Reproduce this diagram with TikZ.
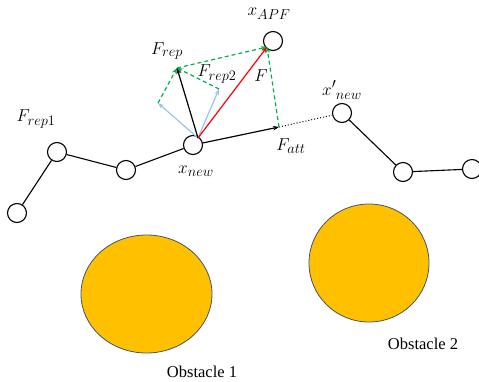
\documentclass[tikz,border=0pt]{standalone}
\usepackage{fontspec}
\setmainfont{Liberation Serif}
\usetikzlibrary{arrows.meta,shapes.geometric}
\definecolor{obst}{HTML}{FFC000}
\definecolor{obstedge}{HTML}{44546A}
\definecolor{lblue}{HTML}{9DC3E6}
\definecolor{fgreen}{HTML}{00B050}
\begin{document}
\begin{tikzpicture}[x=1pt,y=-1pt,
  vtx/.style={draw=black,line width=1.1pt,circle,minimum size=19pt,inner sep=0pt,fill=white},
  edge/.style={draw=black,line width=1.1pt},
  tip/.style={-{Stealth[length=6pt,width=4.5pt]}},
  vec/.style={line width=1.2pt,tip},
  gdash/.style={draw=fgreen,line width=1.2pt,dash pattern=on 4pt off 3pt,tip},
  mlbl/.style={inner sep=0pt,font=\fontsize{19}{22}\selectfont},
  olbl/.style={inner sep=0pt,font=\fontsize{16.5}{19}\selectfont},
  obstacle/.style={draw=obstedge,line width=0.8pt,fill=obst,ellipse,inner sep=0pt}]
\useasboundingbox (0,0) rectangle (479,381);
% obstacles
\node[obstacle,minimum width=131pt,minimum height=118pt] (ob1) at (146.5,294) {};
\node[obstacle,minimum width=120pt,minimum height=118pt] (ob2) at (369,263) {};
\node[olbl] (ol1) at (202,372) {Obstacle 1};
\node[olbl] (ol2) at (423,344) {Obstacle 2};
% vertices
\node[vtx] (n1) at (17,213) {};
\node[vtx] (n2) at (57,152) {};
\node[vtx] (n3) at (126,170) {};
\node[vtx] (xnew) at (193,145) {};
\node[vtx] (xapf) at (273,41) {};
\node[vtx] (xnewp) at (342,113) {};
\node[vtx] (n6) at (403,172) {};
\node[vtx] (n7) at (472,169) {};
% key points
\coordinate (o) at (198,138);
\coordinate (fatt) at (279,127);
\coordinate (frep) at (177,68);
\coordinate (frep1) at (158,103);
\coordinate (frep2) at (219,89);
\coordinate (ftip) at (267,47);
% path
\draw[edge] (n1) -- (n2);
\draw[edge] (n2) -- (n3);
\draw[edge] (n3) -- (xnew);
\draw[edge] (xnewp) -- (n6);
\draw[edge] (n6) -- (n7);
\draw[black,line width=1pt,dotted] (fatt) -- (xnewp);
% vectors
\draw[vec,black] (xnew) -- (fatt);
\draw[vec,lblue] (o) -- (frep1);
\draw[vec,lblue] (o) -- (frep2);
\draw[gdash] (frep1) -- (frep);
\draw[gdash] (frep2) -- (frep);
\draw[gdash] (frep) -- (ftip);
\draw[gdash] (fatt) -- (ftip);
\draw[vec,black] (o) -- (frep);
\draw[vec,red] (o) -- (ftip);
% labels
\node[mlbl] (lxapf) at (269,14) {$x_{APF}$};
\node[mlbl] (lfrep) at (167,51) {$F_{rep}$};
\node[mlbl] (lfrep2) at (217,74) {$F_{rep2}$};
\node[mlbl] (lfrep1) at (36,119) {$F_{rep1}$};
\node[mlbl] (lf) at (261,76) {$F$};
\node[mlbl] (lfatt) at (291,146) {$F_{att}$};
\node[mlbl] (lxnew) at (196,171) {$x_{new}$};
\node[mlbl] (lxnewp) at (342,90) {$x'_{\;new}$};
\end{tikzpicture}
\end{document}
